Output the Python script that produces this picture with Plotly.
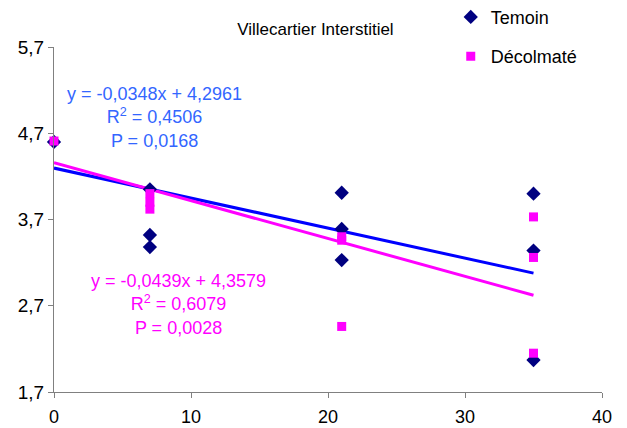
import plotly.graph_objects as go

# Data
temoin_x = [0, 7, 7, 7, 21, 21, 21, 35, 35, 35]
temoin_y = [4.60, 4.05, 3.52, 3.38, 4.01, 3.59, 3.23, 4.00, 3.34, 2.07]
decol_x = [0, 7, 7, 7, 21, 21, 21, 35, 35, 35]
decol_y = [4.61, 4.00, 3.90, 3.82, 3.50, 3.46, 2.46, 3.73, 3.26, 2.15]

fit_temoin = {"slope": -0.0348, "intercept": 4.2961, "r2": "0,4506", "p": "0,0168"}
fit_decol = {"slope": -0.0439, "intercept": 4.3579, "r2": "0,6079", "p": "0,0028"}
fit_x = [0, 35]

x_ticks = [0, 10, 20, 30, 40]
y_ticks = [1.7, 2.7, 3.7, 4.7, 5.7]
y_tick_labels = ["1,7", "2,7", "3,7", "4,7", "5,7"]

NAVY = "#000080"
MAGENTA = "#FF00FF"
BLUE = "#0000FF"
BLUE_TXT = "#3366FF"
FONT = "Liberation Sans, Arial, sans-serif"

fig = go.Figure()

fig.add_trace(go.Scatter(
    x=fit_x, y=[fit_temoin["intercept"] + fit_temoin["slope"] * v for v in fit_x],
    mode="lines", line=dict(color=BLUE, width=3), showlegend=False, hoverinfo="skip"))
fig.add_trace(go.Scatter(
    x=fit_x, y=[fit_decol["intercept"] + fit_decol["slope"] * v for v in fit_x],
    mode="lines", line=dict(color=MAGENTA, width=3), showlegend=False, hoverinfo="skip"))

fig.add_trace(go.Scatter(
    x=temoin_x, y=temoin_y, mode="markers", name="Temoin", legendgroup="a",
    cliponaxis=False,
    marker=dict(symbol="diamond", size=11, color=NAVY, line=dict(width=0))))
fig.add_trace(go.Scatter(
    x=decol_x, y=decol_y, mode="markers", name="Décolmaté", legendgroup="b",
    cliponaxis=False,
    marker=dict(symbol="square", size=9, color=MAGENTA, line=dict(width=0))))

def eq_text(f):
    s = f"{-f['slope']:.4f}".replace(".", ",")
    i = f"{f['intercept']:.4f}".replace(".", ",")
    return (f"y = -{s}x + {i}<br>R<sup>2</sup> = {f['r2']}<br>P = {f['p']}")

fig.add_annotation(x=0.184, y=0.90, xref="paper", yref="paper", text=eq_text(fit_temoin),
                   showarrow=False, align="center", xanchor="center", yanchor="top",
                   font=dict(family=FONT, size=18, color=BLUE_TXT))
fig.add_annotation(x=0.228, y=0.357, xref="paper", yref="paper", text=eq_text(fit_decol),
                   showarrow=False, align="center", xanchor="center", yanchor="top",
                   font=dict(family=FONT, size=18, color=MAGENTA))

# page body adds an 8px offset, so the figure is 8px smaller than the window
fig.update_layout(
    width=619, height=420,
    margin=dict(l=46, r=25, t=39, b=36, autoexpand=False),
    paper_bgcolor="white", plot_bgcolor="white",
    font=dict(family=FONT, size=15, color="black"),
    title=dict(text="Villecartier Interstitiel", x=0.477, xanchor="center",
               xref="paper", y=0.95, yanchor="middle",
               font=dict(family=FONT, size=17, color="black")),
    legend=dict(x=0.724, y=1.14, xanchor="left", yanchor="top",
                font=dict(family=FONT, size=18, color="black"),
                tracegroupgap=13, bgcolor="rgba(0,0,0,0)"),
    xaxis=dict(range=[0, 40], tickvals=x_ticks, ticks="outside", ticklen=5,
               tickcolor="#808080", showline=True, linecolor="#808080", linewidth=1,
               showgrid=False, zeroline=False, automargin=False,
               ticklabelstandoff=3,
               tickfont=dict(family=FONT, size=18)),
    yaxis=dict(range=[1.7, 5.7], tickvals=y_ticks, ticktext=y_tick_labels,
               ticks="outside", ticklen=5, tickcolor="#808080",
               showline=True, linecolor="#808080", linewidth=1,
               showgrid=False, zeroline=False, automargin=False,
               tickfont=dict(family=FONT, size=19)),
)

fig.write_html("out.html")
